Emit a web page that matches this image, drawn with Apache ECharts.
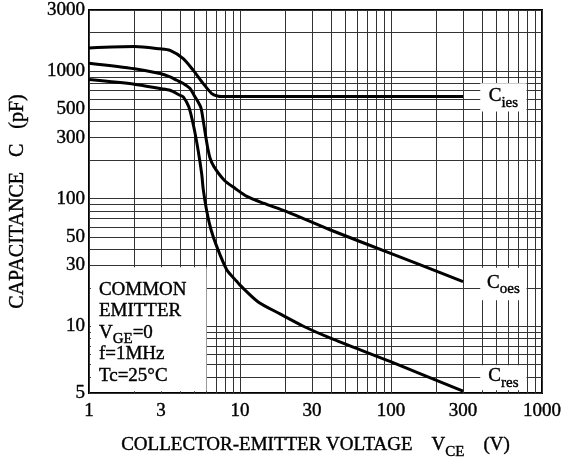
<!DOCTYPE html>
<html><head><meta charset="utf-8">
<script src="https://cdn.jsdelivr.net/npm/echarts@6/dist/echarts.min.js"></script>
<style>html,body{margin:0;padding:0;background:#fff}#c{width:561px;height:460px}</style>
</head><body><div id="c"></div>
<script>
// ---- axis ticks / labels ----
const xTickValues = [1, 3, 10, 30, 100, 300, 1000];
const xTickLabels = ['1', '3', '10', '30', '100', '300', '1000'];
const yTickValues = [3, 10, 30, 50, 100, 300, 500, 1000, 3000];
const yTickLabels = ['5', '10', '30', '50', '100', '300', '500', '1000', '3000'];
const xGridValues = [1,2,3,4,5,6,7,8,9,10,20,30,40,50,60,70,80,90,100,200,300,400,500,600,700,800,900,1000];
const yGridValues = [3,4,5,6,7,8,9,10,20,30,40,50,60,70,80,90,100,200,300,400,500,600,700,800,900,1000,2000,3000];

// ---- series (VCE in V, capacitance in pF) ----
const vceIes = [1, 2, 2.95, 3.44, 4.21, 4.91, 5.71, 6.5, 7.2, 8, 10, 30, 100, 300];
const cIes   = [1510, 1550, 1490, 1450, 1250, 1010, 795, 665, 634, 630, 630, 630, 630, 630];

const vceOes = [1, 2, 2.95, 3.44, 3.81, 4.21, 4.67, 4.96, 5.27, 5.52, 5.73, 5.91, 6.09, 6.33, 6.72, 7.84, 9.3, 11.1, 14.3, 20.4, 39.4, 98.5, 300];
const cOes   = [1150, 1040, 953, 897, 845, 797, 728, 645, 574, 511, 397, 314, 255, 208, 178, 140, 120, 104, 92, 79, 57, 37.4, 22.4];

const vceRes = [1, 2, 2.95, 3.44, 4, 4.21, 4.58, 4.94, 5.29, 5.58, 5.71, 6.02, 6.43, 7.01, 8.17, 9.5, 10, 13.2, 18.4, 26.3, 39.4, 98.5, 300];
const cRes   = [856, 787, 728, 706, 645, 626, 523, 365, 236, 155, 118, 80, 57, 42.2, 27.7, 22.5, 21, 15.5, 12.5, 10, 8.1, 5.3, 3.1];

const seriesNames = ['Cies', 'Coes', 'Cres'];

const serif = '"Liberation Serif","Times New Roman",serif';
const heavy = {textBorderColor: '#000', textBorderWidth: 0.4};
const rich = {
  t: Object.assign({fontFamily: serif, fontSize: 19, color: '#000', verticalAlign: 'top', lineHeight: 21.5}, heavy),
  s: Object.assign({fontFamily: serif, fontSize: 15, color: '#000', verticalAlign: 'top', lineHeight: 10, padding: [8.5, 0, 0, 0]}, heavy)
};

function pairs(xs, ys) { return xs.map((x, i) => [x, ys[i]]); }
function lookup(vals, labels) {
  return function (v) {
    for (let i = 0; i < vals.length; i++) {
      if (Math.abs(Math.log10(v) - Math.log10(vals[i])) < 1e-6) return labels[i];
    }
    return '';
  };
}

const lineStyle = {color: '#000', width: 3};
const white = {color: '#fff', opacity: 1, borderWidth: 0};

const chart = echarts.init(document.getElementById('c'), null, {renderer: 'canvas'});
chart.setOption({
  animation: false,
  backgroundColor: '#fff',
  grid: {left: 89, right: 19, top: 10, bottom: 67, show: true, borderColor: '#000', borderWidth: 2,
         backgroundColor: 'transparent', containLabel: false, outerBoundsMode: 'none'},
  xAxis: {
    type: 'log', logBase: 10, min: 1, max: 1000,
    name: '{t|COLLECTOR-EMITTER VOLTAGE    V}{s|CE}{t|    (V)}',
    nameLocation: 'middle', nameGap: 43,
    nameTextStyle: {rich: rich},
    axisLine: {show: false},
    axisTick: {show: false, customValues: xGridValues},
    axisLabel: Object.assign({customValues: xTickValues, formatter: lookup(xTickValues, xTickLabels),
      fontFamily: serif, fontSize: 19, color: '#000', margin: 9}, heavy),
    splitLine: {show: true, lineStyle: {color: '#333', width: 1}},
    minorSplitLine: {show: false}
  },
  yAxis: {
    type: 'log', logBase: 10, min: 3, max: 3000,
    name: 'CAPACITANCE   C   (pF)',
    nameLocation: 'middle', nameGap: 61, nameRotate: 90,
    nameTextStyle: Object.assign({fontFamily: serif, fontSize: 20, color: '#000'}, heavy),
    axisLine: {show: false},
    axisTick: {show: false, customValues: yGridValues},
    axisLabel: Object.assign({customValues: yTickValues, formatter: lookup(yTickValues, yTickLabels),
      fontFamily: serif, fontSize: 19, color: '#000', margin: 4}, heavy),
    splitLine: {show: true, lineStyle: {color: '#333', width: 1}},
    minorSplitLine: {show: false}
  },
  series: [
    {
      name: seriesNames[0], type: 'line', data: pairs(vceIes, cIes), showSymbol: false,
      smooth: 0.25, lineStyle: lineStyle, z: 3
    },
    {
      name: seriesNames[1], type: 'line', data: pairs(vceOes, cOes), showSymbol: false,
      smooth: 0.25, lineStyle: lineStyle, z: 3
    },
    {
      name: seriesNames[2], type: 'line', data: pairs(vceRes, cRes), showSymbol: false,
      smooth: 0.25, lineStyle: lineStyle, z: 3,
      markArea: {
        silent: true,
        itemStyle: white,
        data: [
          [{xAxis: 1.03, yAxis: 3.1, label: {show: true, position: 'insideTopLeft', distance: 9, offset: [-1, 4],
              formatter: '{t|COMMON}\n{t|EMITTER}\n{t|V}{s|GE}{t|=0}\n{t|f=1MHz}\n{t|Tc=25°C}', rich: rich}},
           {xAxis: 6, yAxis: 29}],
          [{xAxis: 390, yAxis: 480, label: {show: true, position: 'inside', formatter: '{t|C}{s|ies}', rich: rich}},
           {xAxis: 790, yAxis: 800}],
          [{xAxis: 390, yAxis: 16, label: {show: true, position: 'inside', formatter: '{t|C}{s|oes}', rich: rich}},
           {xAxis: 790, yAxis: 28.7}],
          [{xAxis: 390, yAxis: 3.15, label: {show: true, position: 'inside', formatter: '{t|C}{s|res}', rich: rich}},
           {xAxis: 790, yAxis: 4.95}]
        ]
      }
    }
  ]
});
</script>
</body></html>
